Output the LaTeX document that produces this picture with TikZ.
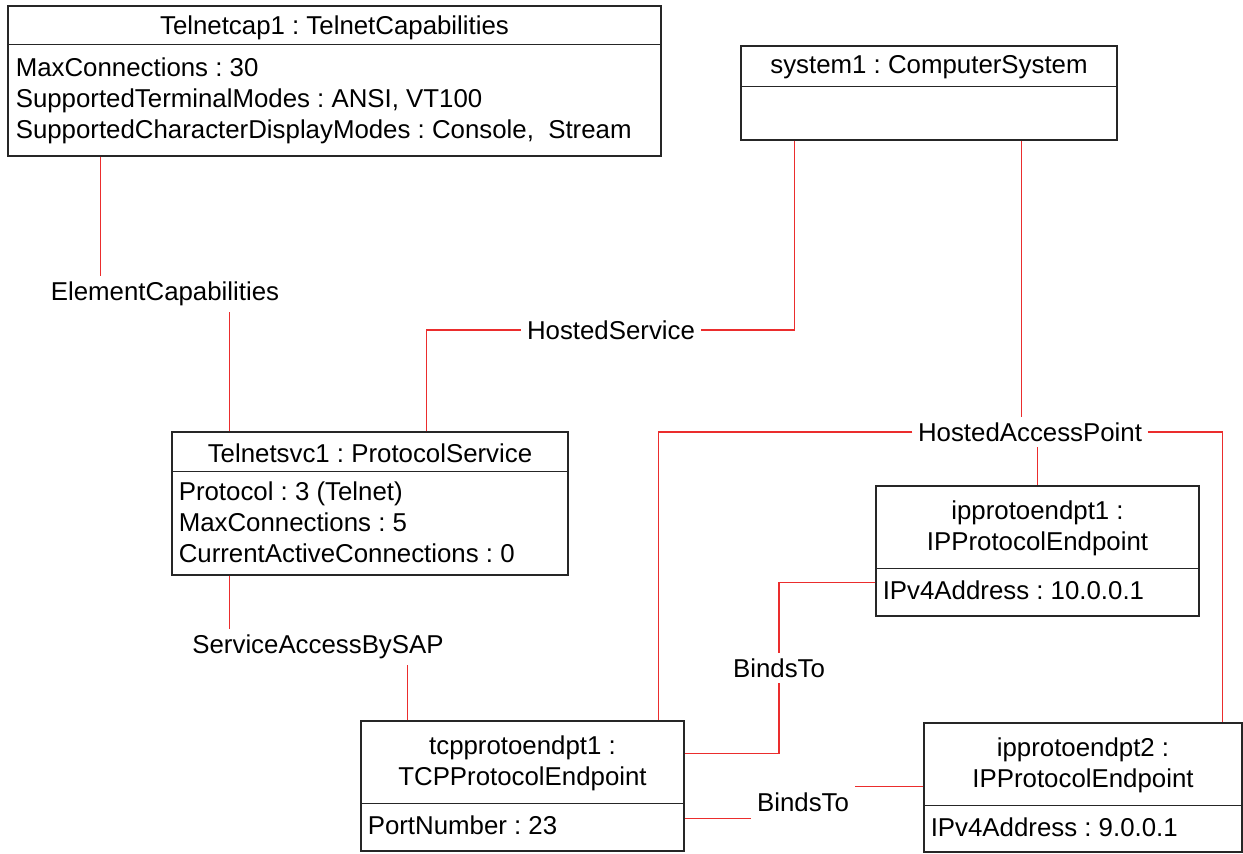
\documentclass[tikz,border=0pt]{standalone}
\usepackage{fontspec}
\setmainfont{Liberation Sans}
\usetikzlibrary{positioning,calc}
\frenchspacing
\definecolor{linkred}{RGB}{235,45,45}
\tikzstyle{objbox} = [draw=black!85, line width=.7pt, shape=rectangle, inner sep=0pt]
\tikzstyle{title} = [inner sep=0pt, align=center, font=\fontsize{14.7}{17.2}\selectfont]
\tikzstyle{attrs} = [anchor=north west, inner sep=0pt, align=left, font=\fontsize{14.7}{17.6}\selectfont]
\tikzstyle{assoc} = [draw=linkred, line width=.85pt]
\tikzstyle{role} = [inner sep=3pt, font=\fontsize{14.7}{17.6}\selectfont]

\begin{document}
\begin{tikzpicture}[x=.02cm, y=-.02cm]
            \useasboundingbox (0,0) rectangle (1243,854);
            %%%%% Capabilities %%%%%
            \node (cap) [objbox, minimum width=13.06cm, minimum height=3cm] at (334.5,81) {};
            \draw[objbox] ($(cap.north west)+(0,39)$) -- ($(cap.north east)+(0,39)$);
            \node (capT) [title] at ($(cap.north)+(0,22)$) {Telnetcap1 : TelnetCapabilities};
            \node (capA) [attrs] at ($(cap.north west)+(8,52)$) {MaxConnections : 30\\SupportedTerminalModes : ANSI, VT100\\SupportedCharacterDisplayModes : Console,\ \ Stream};
            %%%%% System %%%%%
            \node (sys) [objbox, minimum width=7.52cm, minimum height=1.88cm] at (929,93) {};
            \draw[objbox] ($(sys.north west)+(0,41)$) -- ($(sys.north east)+(0,41)$);
            \node (sysT) [title] at ($(sys.north)+(0,22)$) {system1 : ComputerSystem};
            %%%%% Service %%%%%
            \node (svc) [objbox, minimum width=7.92cm, minimum height=2.86cm] at (370,503.5) {};
            \draw[objbox] ($(svc.north west)+(0,40)$) -- ($(svc.north east)+(0,40)$);
            \node (svcT) [title] at ($(svc.north)+(0,22)$) {Telnetsvc1 : ProtocolService};
            \node (svcA) [attrs] at ($(svc.north west)+(7,50)$) {Protocol : 3 (Telnet)\\MaxConnections : 5\\CurrentActiveConnections : 0};
            %%%%% Endpoints %%%%%
            \node (ip1) [objbox, minimum width=6.46cm, minimum height=2.6cm] at (1037.5,551) {};
            \draw[objbox] ($(ip1.north west)+(0,83)$) -- ($(ip1.north east)+(0,83)$);
            \node (ip1T) [title] at ($(ip1.north)+(0,43)$) {ipprotoendpt1 :\\IPProtocolEndpoint};
            \node (ip1A) [attrs] at ($(ip1.north west)+(7,95)$) {IPv4Address : 10.0.0.1};
            \node (tcp) [objbox, minimum width=6.46cm, minimum height=2.6cm] at (522.5,786) {};
            \draw[objbox] ($(tcp.north west)+(0,83)$) -- ($(tcp.north east)+(0,83)$);
            \node (tcpT) [title] at ($(tcp.north)+(0,43)$) {tcpprotoendpt1 :\\TCPProtocolEndpoint};
            \node (tcpA) [attrs] at ($(tcp.north west)+(7,95)$) {PortNumber : 23};
            \node (ip2) [objbox, minimum width=6.36cm, minimum height=2.58cm] at (1083,787.5) {};
            \draw[objbox] ($(ip2.north west)+(0,83)$) -- ($(ip2.north east)+(0,83)$);
            \node (ip2T) [title] at ($(ip2.north)+(0,43)$) {ipprotoendpt2 :\\IPProtocolEndpoint};
            \node (ip2A) [attrs] at ($(ip2.north west)+(7,95)$) {IPv4Address : 9.0.0.1};
            %%%%% Association labels %%%%%
            \node (ec) [role] at (165,294) {ElementCapabilities};
            \node (hs) [role] at (611,330) {HostedService};
            \node (hap) [role] at (1030,432) {HostedAccessPoint};
            \node (sap) [role] at (318,647) {ServiceAccessBySAP};
            \node (bt1) [role] at (779,668) {BindsTo};
            \node (bt2) [role] at (803,802) {BindsTo};
            %%%%% Edges %%%%%
            \coordinate (cap-ec) at ($(cap.south west)+(93,0)$);
            \coordinate (svc-ec) at ($(svc.north west)+(58,0)$);
            \draw[assoc] (cap-ec) -- (cap-ec |- ec.north);
            \draw[assoc] (svc-ec) -- (svc-ec |- ec.south);
            \coordinate (sys-hs) at ($(sys.south west)+(54,0)$);
            \coordinate (svc-hs) at ($(svc.north west)+(255,0)$);
            \draw[assoc] (sys-hs) |- (hs.east);
            \draw[assoc] (svc-hs) |- (hs.west);
            \coordinate (sys-hap) at ($(sys.south west)+(281,0)$);
            \coordinate (tcp-hap) at ($(tcp.north west)+(298,0)$);
            \coordinate (ip2-hap) at ($(ip2.north west)+(299,0)$);
            \draw[assoc] (sys-hap) -- (sys-hap |- hap.north);
            \draw[assoc] (hap.west) -| (tcp-hap);
            \draw[assoc] (hap.east) -| (ip2-hap);
            \draw[assoc] (ip1.north |- hap.south) -- (ip1.north);
            \coordinate (svc-sap) at ($(svc.south west)+(58,0)$);
            \coordinate (tcp-sap) at ($(tcp.north west)+(47,0)$);
            \draw[assoc] (svc-sap) -- (svc-sap |- sap.north);
            \draw[assoc] (tcp-sap) -- (tcp-sap |- sap.south);
            \coordinate (ip1-bt) at ($(ip1.north west)+(0,97)$);
            \coordinate (tcp-bt) at ($(tcp.north east)+(0,33)$);
            \draw[assoc] (ip1-bt) -| (bt1.north);
            \draw[assoc] (tcp-bt) -| (bt1.south);
            \coordinate (tcp-bt2) at ($(tcp.north east)+(0,98)$);
            \coordinate (ip2-bt) at ($(ip2.north west)+(0,64)$);
            \draw[assoc] (tcp-bt2) -- (tcp-bt2 -| bt2.west);
            \draw[assoc] (ip2-bt) -- (ip2-bt -| bt2.east);
        \end{tikzpicture}
\end{document}
